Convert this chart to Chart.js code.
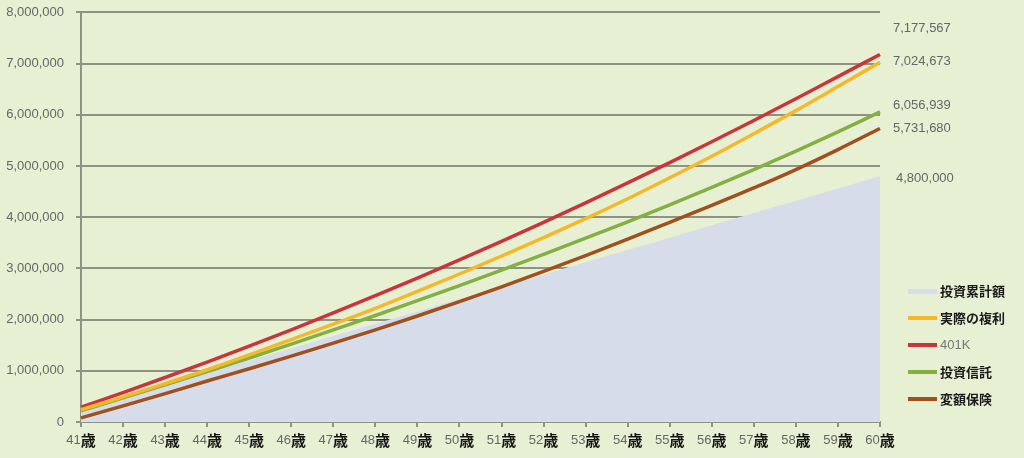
<!DOCTYPE html>
<html lang="ja">
<head>
<meta charset="utf-8">
<script src="https://cdn.jsdelivr.net/npm/chart.js@4.4.1/dist/chart.umd.min.js"></script>
<style>
  html, body { margin: 0; padding: 0; background: #e8f0d3; }
</style>
</head>
<body>
<canvas id="chart" width="1024" height="458"></canvas>
<script>
// 年齢（横軸）
const ages = ['41', '42', '43', '44', '45', '46', '47', '48', '49', '50',
              '51', '52', '53', '54', '55', '56', '57', '58', '59', '60'];

// 各商品の積立残高（円）
const cumulative = [240000, 480000, 720000, 960000, 1200000, 1440000, 1680000, 1920000, 2160000, 2400000,
                    2640000, 2880000, 3120000, 3360000, 3600000, 3840000, 4080000, 4320000, 4560000, 4800000];
const compoundReal = [240000, 490000, 750000, 1020000, 1310000, 1610000, 1910000, 2220000, 2550000, 2890000,
                      3240000, 3600000, 3970000, 4360000, 4770000, 5190000, 5630000, 6080000, 6550000, 7024673];
const plan401k = [290000, 575000, 869000, 1171000, 1482000, 1801000, 2129000, 2466000, 2811000, 3165000,
                  3528000, 3899000, 4279000, 4668000, 5066000, 5472000, 5887000, 6311000, 6744000, 7177567];
const investTrust = [220000, 470000, 725000, 985000, 1250000, 1520000, 1800000, 2080000, 2370000, 2665000,
                     2965000, 3275000, 3590000, 3910000, 4240000, 4580000, 4930000, 5290000, 5665000, 6056939];
const variableIns = [80000, 315000, 555000, 800000, 1040000, 1285000, 1540000, 1800000, 2070000, 2350000,
                     2640000, 2940000, 3250000, 3570000, 3900000, 4230000, 4570000, 4930000, 5320000, 5731680];

const seriesNames = ['投資累計額', '実際の複利', '401K', '投資信託', '変額保険'];
const seriesColors = ['#d6dce9', '#f4b928', '#c8363b', '#84b043', '#a0501c'];

const gridGray = '#8e9385';
const textGray = '#666';

// 横軸ラベル（数字＋太字の「歳」）と右側の終値・凡例を描く
const decorations = {
  id: 'decorations',
  afterDraw(chart) {
    const ctx = chart.ctx;
    const xs = chart.scales.x;
    ctx.save();
    ctx.textBaseline = 'middle';

    ages.forEach((a, i) => {
      const x = xs.getPixelForValue(i);
      ctx.font = '13px "Liberation Sans", Arial, sans-serif';
      const w1 = ctx.measureText(a).width;
      ctx.font = 'bold 15px "Noto Sans CJK JP", sans-serif';
      const w2 = ctx.measureText('歳').width;
      const left = x - (w1 + w2) / 2;
      ctx.textAlign = 'left';
      ctx.fillStyle = textGray;
      ctx.font = '13px "Liberation Sans", Arial, sans-serif';
      ctx.fillText(a, left, 440);
      ctx.fillStyle = '#151515';
      ctx.font = 'bold 15px "Noto Sans CJK JP", sans-serif';
      ctx.fillText('歳', left + w1, 440);
    });

    // 60歳時点の値
    const ends = [
      [plan401k, 893, 28],
      [compoundReal, 893, 61],
      [investTrust, 893, 105],
      [variableIns, 893, 128],
      [cumulative, 896, 178]
    ];
    ctx.font = '13px "Liberation Sans", Arial, sans-serif';
    ctx.fillStyle = textGray;
    ends.forEach(([arr, x, y]) => {
      ctx.fillText(arr[arr.length - 1].toLocaleString('en-US'), x, y);
    });

    // 凡例
    seriesNames.forEach((name, i) => {
      const y = 291 + i * 27;
      ctx.fillStyle = seriesColors[i];
      ctx.fillRect(908, y - 2, 29, i === 0 ? 5 : 4);
      if (name === '401K') {
        ctx.font = '13px "Liberation Sans", Arial, sans-serif';
        ctx.fillStyle = '#777';
      } else {
        ctx.font = 'bold 13px "Noto Sans CJK JP", sans-serif';
        ctx.fillStyle = '#1a1a1a';
      }
      ctx.fillText(name, 940, y);
    });
    ctx.restore();
  }
};

const lineSet = (label, data, color) => ({
  label,
  data,
  borderColor: color,
  backgroundColor: color,
  borderWidth: 3.5,
  pointRadius: 0,
  fill: false,
  cubicInterpolationMode: 'monotone',
  order: 1
});

new Chart(document.getElementById('chart'), {
  type: 'line',
  data: {
    labels: ages,
    datasets: [
      {
        label: seriesNames[0],
        data: cumulative,
        backgroundColor: seriesColors[0],
        borderWidth: 0,
        pointRadius: 0,
        fill: 'origin',
        order: 5
      },
      lineSet(seriesNames[1], compoundReal, seriesColors[1]),
      lineSet(seriesNames[2], plan401k, seriesColors[2]),
      lineSet(seriesNames[3], investTrust, seriesColors[3]),
      lineSet(seriesNames[4], variableIns, seriesColors[4])
    ]
  },
  options: {
    responsive: false,
    animation: false,
    layout: { padding: { top: 0, right: 144, left: 0, bottom: 0 } },
    plugins: {
      legend: { display: false },
      tooltip: { enabled: false }
    },
    scales: {
      x: {
        offset: false,
        grid: { drawOnChartArea: false, drawTicks: true, tickLength: 5, color: gridGray, lineWidth: 2 },
        border: { color: gridGray, width: 2 },
        ticks: { color: 'rgba(0,0,0,0)', autoSkip: false, maxRotation: 0, font: { size: 13 } },
        afterFit: s => { s.height = 36; }
      },
      y: {
        min: 0,
        max: 8000000,
        grid: { color: gridGray, lineWidth: 2, tickLength: 5 },
        border: { color: gridGray, width: 2 },
        ticks: {
          stepSize: 1000000,
          padding: 12,
          color: textGray,
          font: { family: '"Liberation Sans", Arial, sans-serif', size: 13, lineHeight: 0.05 },
          callback: v => v.toLocaleString('en-US')
        },
        afterFit: s => { s.width = 81; }
      }
    }
  },
  plugins: [decorations]
});
</script>
</body>
</html>
